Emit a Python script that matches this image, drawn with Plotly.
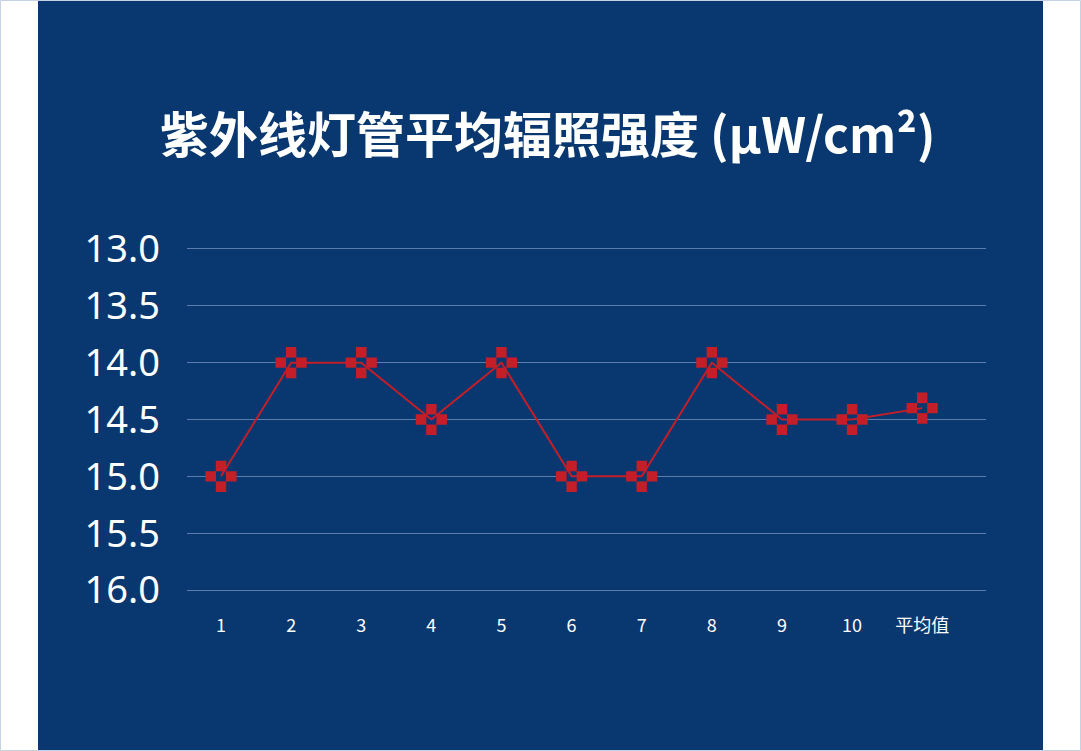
import plotly.graph_objects as go

categories = ["1", "2", "3", "4", "5", "6", "7", "8", "9", "10", "平均值"]
values = [15.0, 14.0, 14.0, 14.5, 14.0, 15.0, 15.0, 14.0, 14.5, 14.5, 14.4]
y_ticks = [13.0, 13.5, 14.0, 14.5, 15.0, 15.5, 16.0]
title_text = "紫外线灯管平均辐照强度 (μW/cm²)"

PANEL = "#08386f"
RED = "#c41e28"
GRID = "#5a7cae"

W, H = 1081, 751
ML, MR, MT, MB = 187, 95, 242, 154
PW, PH = W - ML - MR, H - MT - MB


def px_x(px):
    return (px - ML) / PW


def px_y(py):
    return (H - MB - py) / PH


fig = go.Figure()
fig.add_trace(go.Scatter(
    x=categories, y=values, mode="markers",
    marker=dict(symbol="cross", size=26, color=RED, line=dict(width=0)),
    hoverinfo="skip", showlegend=False))
fig.add_trace(go.Scatter(
    x=categories, y=values, mode="markers",
    marker=dict(symbol="square", size=10, color=PANEL, line=dict(width=0)),
    hoverinfo="skip", showlegend=False))
fig.add_trace(go.Scatter(
    x=categories, y=values, mode="lines",
    line=dict(color=RED, width=2),
    showlegend=False))

fig.update_layout(
    width=W, height=H,
    margin=dict(l=ML, r=MR, t=MT, b=MB),
    paper_bgcolor="white",
    plot_bgcolor="rgba(0,0,0,0)",
    font=dict(family="Noto Sans, Noto Sans CJK SC", color="white"),
    shapes=[
        dict(type="rect", xref="paper", yref="paper", layer="below",
             x0=px_x(38), x1=px_x(1043), y0=px_y(H), y1=px_y(0),
             fillcolor=PANEL, line=dict(width=0)),
        dict(type="rect", xref="paper", yref="paper", layer="above",
             x0=px_x(0.5), x1=px_x(W - 0.5), y0=px_y(H - 0.5), y1=px_y(0.5),
             fillcolor="rgba(0,0,0,0)", line=dict(width=1, color="#c5d2e4")),
    ],
    annotations=[
        dict(text="<b>" + title_text + "</b>", xref="paper", yref="paper",
             x=px_x(547), y=px_y(131),
             xanchor="center", yanchor="middle", showarrow=False,
             font=dict(family="Noto Sans CJK SC", size=49, color="white")),
    ],
    xaxis=dict(
        type="category", range=[-0.485, 10.91],
        showgrid=False, zeroline=False, showline=False,
        tickfont=dict(size=18, color="white", family="Noto Sans CJK SC"),
        ticks="", ticklabelstandoff=16,
    ),
    yaxis=dict(
        range=[16.061, 12.939],
        tickvals=y_ticks, ticktext=[f"{v:.1f}" for v in y_ticks],
        showgrid=True, gridcolor=GRID, gridwidth=1,
        zeroline=False, showline=False, ticks="",
        tickfont=dict(size=38, color="white", family="Noto Sans"),
        ticklabelstandoff=26,
    ),
)

fig.write_html("out.html",
               config={"displayModeBar": False},
               post_script="document.body.style.margin='0px';document.body.style.overflow='hidden';")
